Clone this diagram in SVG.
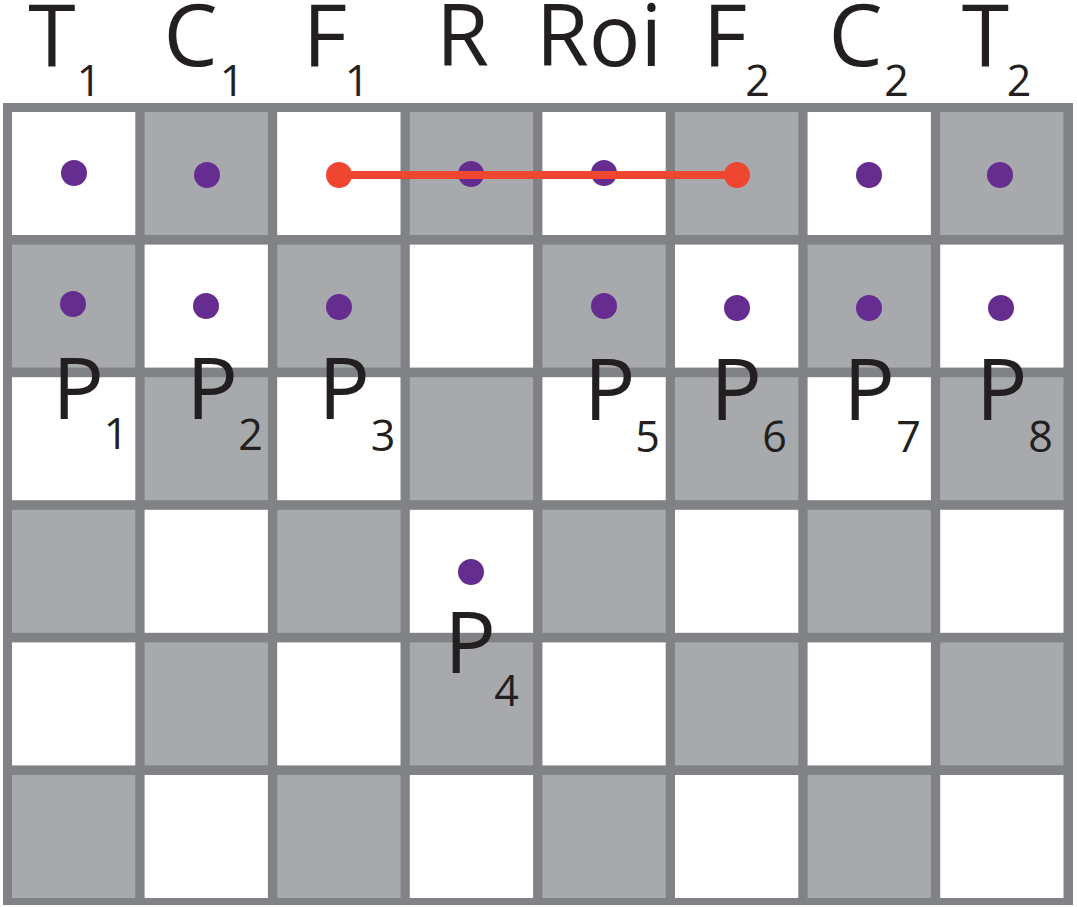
<svg xmlns="http://www.w3.org/2000/svg" width="1077" height="907" viewBox="0 0 1077 907">
<style>
.w{fill:#ffffff}
.g{fill:#a7a9ac}
.dot{fill:#662d91}
.red{fill:#ef4631}
.lbl{font-family:"Open Sans","Noto Sans",sans-serif;fill:#231f20;text-anchor:middle}
.big{font-size:86px}
.sub{font-size:43px}
</style>
<rect x="0" y="0" width="1077" height="907" fill="#ffffff"/>
<g id="board">
<rect x="3" y="103" width="1070" height="802" fill="#808285"/>
<g id="row0">
<rect class="w" x="12" y="112" width="123.3" height="123"/>
<rect class="g" x="144.6" y="112" width="123.3" height="123"/>
<rect class="w" x="277.2" y="112" width="123.3" height="123"/>
<rect class="g" x="409.8" y="112" width="123.3" height="123"/>
<rect class="w" x="542.4" y="112" width="123.3" height="123"/>
<rect class="g" x="675" y="112" width="123.3" height="123"/>
<rect class="w" x="807.6" y="112" width="123.3" height="123"/>
<rect class="g" x="940.2" y="112" width="123.3" height="123"/>
</g>
<g id="row1">
<rect class="g" x="12" y="244.6" width="123.3" height="123"/>
<rect class="w" x="144.6" y="244.6" width="123.3" height="123"/>
<rect class="g" x="277.2" y="244.6" width="123.3" height="123"/>
<rect class="w" x="409.8" y="244.6" width="123.3" height="123"/>
<rect class="g" x="542.4" y="244.6" width="123.3" height="123"/>
<rect class="w" x="675" y="244.6" width="123.3" height="123"/>
<rect class="g" x="807.6" y="244.6" width="123.3" height="123"/>
<rect class="w" x="940.2" y="244.6" width="123.3" height="123"/>
</g>
<g id="row2">
<rect class="w" x="12" y="377.2" width="123.3" height="123"/>
<rect class="g" x="144.6" y="377.2" width="123.3" height="123"/>
<rect class="w" x="277.2" y="377.2" width="123.3" height="123"/>
<rect class="g" x="409.8" y="377.2" width="123.3" height="123"/>
<rect class="w" x="542.4" y="377.2" width="123.3" height="123"/>
<rect class="g" x="675" y="377.2" width="123.3" height="123"/>
<rect class="w" x="807.6" y="377.2" width="123.3" height="123"/>
<rect class="g" x="940.2" y="377.2" width="123.3" height="123"/>
</g>
<g id="row3">
<rect class="g" x="12" y="509.8" width="123.3" height="123"/>
<rect class="w" x="144.6" y="509.8" width="123.3" height="123"/>
<rect class="g" x="277.2" y="509.8" width="123.3" height="123"/>
<rect class="w" x="409.8" y="509.8" width="123.3" height="123"/>
<rect class="g" x="542.4" y="509.8" width="123.3" height="123"/>
<rect class="w" x="675" y="509.8" width="123.3" height="123"/>
<rect class="g" x="807.6" y="509.8" width="123.3" height="123"/>
<rect class="w" x="940.2" y="509.8" width="123.3" height="123"/>
</g>
<g id="row4">
<rect class="w" x="12" y="642.4" width="123.3" height="123"/>
<rect class="g" x="144.6" y="642.4" width="123.3" height="123"/>
<rect class="w" x="277.2" y="642.4" width="123.3" height="123"/>
<rect class="g" x="409.8" y="642.4" width="123.3" height="123"/>
<rect class="w" x="542.4" y="642.4" width="123.3" height="123"/>
<rect class="g" x="675" y="642.4" width="123.3" height="123"/>
<rect class="w" x="807.6" y="642.4" width="123.3" height="123"/>
<rect class="g" x="940.2" y="642.4" width="123.3" height="123"/>
</g>
<g id="row5">
<rect class="g" x="12" y="775" width="123.3" height="123"/>
<rect class="w" x="144.6" y="775" width="123.3" height="123"/>
<rect class="g" x="277.2" y="775" width="123.3" height="123"/>
<rect class="w" x="409.8" y="775" width="123.3" height="123"/>
<rect class="g" x="542.4" y="775" width="123.3" height="123"/>
<rect class="w" x="675" y="775" width="123.3" height="123"/>
<rect class="g" x="807.6" y="775" width="123.3" height="123"/>
<rect class="w" x="940.2" y="775" width="123.3" height="123"/>
</g>
</g>
<g id="headers" class="lbl">
<g id="h-T1"><text class="big" x="52" y="66">T</text><text class="sub" x="89" y="96">1</text></g>
<g id="h-C1"><text class="big" x="190.5" y="66">C</text><text class="sub" x="232" y="96">1</text></g>
<g id="h-F1"><text class="big" x="325" y="66">F</text><text class="sub" x="357" y="96">1</text></g>
<g id="h-R"><text class="big" x="462.5" y="66">R</text></g>
<g id="h-Roi"><text class="big" x="599" y="66">Roi</text></g>
<g id="h-F2"><text class="big" x="725" y="66">F</text><text class="sub" x="757.5" y="96">2</text></g>
<g id="h-C2"><text class="big" x="855.5" y="66">C</text><text class="sub" x="896.5" y="96">2</text></g>
<g id="h-T2"><text class="big" x="985.5" y="66">T</text><text class="sub" x="1019" y="96">2</text></g>
</g>
<g id="dots">
<circle class="dot" cx="74" cy="173" r="13"/>
<circle class="dot" cx="207" cy="175" r="13"/>
<circle class="dot" cx="471" cy="174" r="13"/>
<circle class="dot" cx="604" cy="173" r="13"/>
<circle class="dot" cx="869" cy="175" r="13"/>
<circle class="dot" cx="1000" cy="175" r="13"/>
</g>
<g id="connectors">
<line x1="339" y1="175" x2="737" y2="175" stroke="#ef4631" stroke-width="8"/>
</g>
<g id="red-ends">
<circle class="red" cx="339" cy="175" r="13"/>
<circle class="red" cx="737" cy="175" r="13"/>
</g>
<g id="P1"><circle class="dot" cx="73" cy="304" r="13"/><text class="lbl big" x="78" y="419">P</text><text class="lbl sub" x="116" y="449">1</text></g>
<g id="P2"><circle class="dot" cx="206" cy="306" r="13"/><text class="lbl big" x="212" y="419">P</text><text class="lbl sub" x="250.5" y="450">2</text></g>
<g id="P3"><circle class="dot" cx="339" cy="307" r="13"/><text class="lbl big" x="344" y="419">P</text><text class="lbl sub" x="383" y="451">3</text></g>
<g id="P4"><circle class="dot" cx="471" cy="572" r="13"/><text class="lbl big" x="470" y="673">P</text><text class="lbl sub" x="506.5" y="706">4</text></g>
<g id="P5"><circle class="dot" cx="604" cy="306" r="13"/><text class="lbl big" x="609.5" y="420">P</text><text class="lbl sub" x="647.5" y="452">5</text></g>
<g id="P6"><circle class="dot" cx="737" cy="308" r="13"/><text class="lbl big" x="736" y="420">P</text><text class="lbl sub" x="774.5" y="452">6</text></g>
<g id="P7"><circle class="dot" cx="869" cy="308" r="13"/><text class="lbl big" x="869" y="420">P</text><text class="lbl sub" x="908.5" y="452">7</text></g>
<g id="P8"><circle class="dot" cx="1001" cy="308" r="13"/><text class="lbl big" x="1001.5" y="420">P</text><text class="lbl sub" x="1040.5" y="452">8</text></g>
</svg>
